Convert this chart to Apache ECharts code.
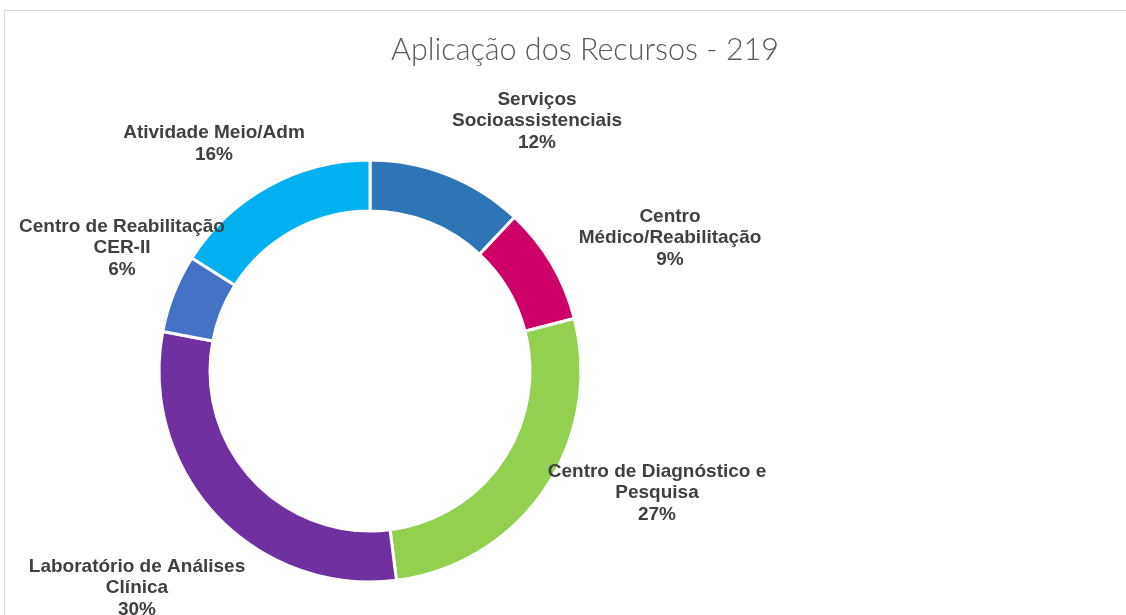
<!DOCTYPE html>
<html>
<head>
<meta charset="utf-8">
<script src="https://cdn.jsdelivr.net/npm/echarts@6/dist/echarts.min.js"></script>
<style>
  body { margin: 0; background: #fff; overflow: hidden; }
  #frame { position: absolute; left: 4px; top: 10px; width: 1200px; height: 700px; border: 1px solid #d9d9d9; }
  #chart { position: absolute; left: 0; top: 0; width: 1126px; height: 615px; }
</style>
</head>
<body>
<div id="frame"></div>
<div id="chart"></div>
<script>
// dados
var categorias = [
  'Serviços\nSocioassistenciais',
  'Centro\nMédico/Reabilitação',
  'Centro de Diagnóstico e\nPesquisa',
  'Laboratório de Análises\nClínica',
  'Centro de Reabilitação\nCER-II',
  'Atividade Meio/Adm'
];
var percentuais = [12, 9, 27, 30, 6, 16];
var cores = ['#2E75B6', '#CC0066', '#92D050', '#7030A0', '#4472C4', '#00B0F0'];

// deslocamento dos rótulos a partir do centro da rosca
var rotuloDesloc = [[167, -250], [300, -133], [287, 122], [-233, 217], [-248, -123], [-156, -227]];
var centro = [370, 371];

var myChart = echarts.init(document.getElementById('chart'));
myChart.setOption({
  animation: false,
  title: {
    text: 'Aplicação dos Recursos - 219',
    left: 580,
    top: 30,
    textAlign: 'center',
    textStyle: { fontFamily: 'Lato', fontWeight: 300, fontSize: 30.5, color: '#595959' }
  },
  series: [{
    type: 'pie',
    center: centro,
    radius: [160, 211],
    startAngle: 90,
    clockwise: true,
    data: categorias.map(function (c, i) {
      return { name: c, value: percentuais[i], itemStyle: { color: cores[i] } };
    }),
    itemStyle: { borderColor: '#fff', borderWidth: 3 },
    label: {
      show: true,
      position: 'inside',
      formatter: function (p) { return p.name + '\n' + p.value + '%'; },
      fontFamily: 'Liberation Sans, Arial',
      fontWeight: 'bold',
      fontSize: 19,
      lineHeight: 21.5,
      color: '#404040',
      align: 'center',
      overflow: 'none'
    },
    labelLine: { show: false },
    labelLayout: function (p) {
      var d = rotuloDesloc[p.dataIndex];
      return { x: centro[0] + d[0], y: centro[1] + d[1], align: 'center', verticalAlign: 'middle' };
    },
    emphasis: { disabled: true }
  }]
});
</script>
</body>
</html>
